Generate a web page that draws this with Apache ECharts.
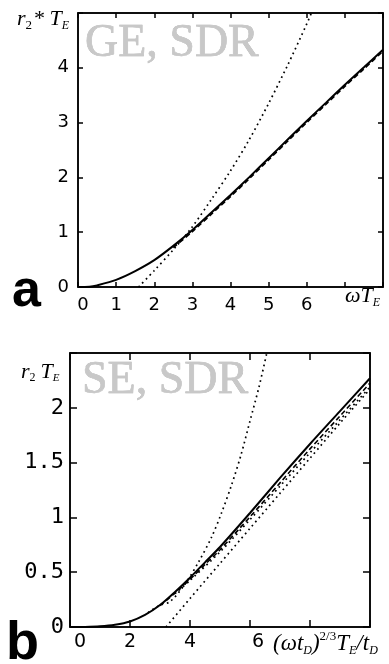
<!DOCTYPE html>
<html>
<head>
<meta charset="utf-8">
<script src="https://cdn.jsdelivr.net/npm/echarts@6/dist/echarts.min.js"></script>
<style>
html, body { margin: 0; padding: 0; background: #fff; }
#main { width: 389px; height: 664px; }
</style>
</head>
<body>
<div id="main"></div>
<script>
// panel a : GE, SDR
var aSolidX = [0, 0.3, 0.5, 1, 1.5, 2, 2.5, 3, 3.5, 4, 4.5, 5, 5.5, 6, 6.5, 7, 7.5, 8];
var aSolidY = [0, 0.005, 0.03, 0.13, 0.29, 0.49, 0.75, 1.04, 1.36, 1.68, 2.01, 2.35, 2.69, 3.03, 3.36, 3.69, 4.01, 4.33];
var aDashX = [2.5, 3, 3.5, 4, 4.5, 5, 5.5, 6, 6.5, 7, 7.5, 8];
var aDashY = [0.72, 1.01, 1.33, 1.65, 1.98, 2.32, 2.66, 3.0, 3.33, 3.66, 3.98, 4.3];
var aSteepX = [1.59, 2, 2.5, 3, 3.5, 4, 4.5, 5, 5.5, 6, 6.12];
var aSteepY = [0, 0.3, 0.68, 1.1, 1.6, 2.12, 2.7, 3.35, 4.05, 4.8, 5.0];

// panel b : SE, SDR
var bSolidX = [0, 0.5, 1, 1.5, 2, 2.5, 3, 3.5, 4, 4.5, 5, 6, 7, 8, 9, 10];
var bSolidY = [0, 0.001, 0.006, 0.02, 0.05, 0.11, 0.2, 0.32, 0.45, 0.59, 0.73, 1.04, 1.36, 1.67, 1.97, 2.27];
var bDashX = [3, 3.5, 4, 4.5, 5, 6, 7, 8, 9, 10];
var bDashY = [0.195, 0.31, 0.435, 0.57, 0.705, 1.005, 1.315, 1.625, 1.925, 2.225];
var bDotX = [3.5, 4, 5, 6, 7, 8, 9, 10];
var bDotY = [0.305, 0.425, 0.685, 0.98, 1.285, 1.59, 1.89, 2.19];
var bAsymX = [3.2, 4, 5, 6, 7, 8, 9, 10];
var bAsymY = [0, 0.26, 0.58, 0.9, 1.22, 1.54, 1.86, 2.17];
var bSteepX = [2.6, 3, 3.33, 3.83, 4.3, 4.72, 5.05, 5.39, 5.7, 6.0, 6.3, 6.56];
var bSteepY = [0.13, 0.2, 0.23, 0.39, 0.6, 0.82, 1.04, 1.3, 1.57, 1.88, 2.19, 2.5];

function pairs(xs, ys) {
    return xs.map(function (x, i) { return [x, ys[i]]; });
}

var tickStyle = { color: '#000', width: 1.5 };

// pads: extra left padding for some tick labels (shifts them right like the original)
function xAxes(grid, max, step, tickLen, hideFrom, font, size, margin, pads) {
    return [{
        type: 'value', gridIndex: grid, min: 0, max: max, interval: step, position: 'bottom',
        axisLine: { show: true, onZero: false, lineStyle: tickStyle },
        axisTick: { show: true, inside: true, length: tickLen, lineStyle: tickStyle },
        splitLine: { show: false },
        axisLabel: {
            margin: margin, color: '#000', fontFamily: font, fontSize: size,
            formatter: function (v) {
                if (v >= hideFrom) return '';
                if (pads[v]) return '{p' + v + '|' + v + '}';
                return String(v);
            },
            rich: (function () {
                var r = {};
                for (var k in pads) r['p' + k] = { fontFamily: font, fontSize: size, color: '#000', padding: [0, 0, 0, pads[k]] };
                return r;
            })()
        }
    }, {
        type: 'value', gridIndex: grid, min: 0, max: max, interval: step, position: 'top',
        axisLine: { show: true, onZero: false, lineStyle: tickStyle },
        axisTick: { show: true, inside: true, length: tickLen, lineStyle: tickStyle },
        splitLine: { show: false },
        axisLabel: { show: false }
    }];
}

function yAxes(grid, max, step, tickLen, font, size, margin) {
    return [{
        type: 'value', gridIndex: grid, min: 0, max: max, interval: step, position: 'left',
        axisLine: { show: true, onZero: false, lineStyle: tickStyle },
        axisTick: { show: true, inside: true, length: tickLen, lineStyle: tickStyle },
        splitLine: { show: false },
        axisLabel: {
            margin: margin, color: '#000', fontFamily: font, fontSize: size,
            formatter: function (v) { return v >= max ? '' : String(v); }
        }
    }, {
        type: 'value', gridIndex: grid, min: 0, max: max, interval: step, position: 'right',
        axisLine: { show: true, onZero: false, lineStyle: tickStyle },
        axisTick: { show: true, inside: true, length: tickLen, lineStyle: tickStyle },
        splitLine: { show: false },
        axisLabel: { show: false }
    }];
}

function line(data, xi, yi, kind) {
    var ls = { color: '#000', width: 2, type: 'solid' };
    if (kind === 'dash') ls = { color: '#000', width: 1.6, type: [5, 3] };
    if (kind === 'dot') ls = { color: '#000', width: 1.7, type: [1.7, 3.6] };
    return {
        type: 'line', xAxisIndex: xi, yAxisIndex: yi, data: data,
        showSymbol: false, symbol: 'none', smooth: 0.3,
        lineStyle: ls, silent: true, z: kind === 'solid' ? 5 : 3
    };
}

var serif = '"Liberation Serif", "DejaVu Serif", serif';

function rt(size, extra) {
    var o = { fontFamily: serif, fontStyle: 'italic', fontSize: size, fill: '#000', verticalAlign: 'top', lineHeight: size };
    for (var k in extra) o[k] = extra[k];
    return o;
}

var myChart = echarts.init(document.getElementById('main'));
var option = {
    animation: false,
    backgroundColor: '#fff',
    grid: [
        { left: 78, top: 13, width: 305, height: 274, show: true, borderColor: '#000', borderWidth: 1.5, backgroundColor: 'transparent', outerBoundsMode: 'none' },
        { left: 70, top: 353, width: 300, height: 274, show: true, borderColor: '#000', borderWidth: 1.5, backgroundColor: 'transparent', outerBoundsMode: 'none' }
    ],
    xAxis: xAxes(0, 8, 1, 5, 7, '"DejaVu Sans", sans-serif', 18, 9, { 0: 10 })
        .concat(xAxes(1, 10, 2, 7, 8, '"DejaVu Sans", sans-serif', 19, 6, { 0: 20, 6: 16 })),
    yAxis: yAxes(0, 5, 1, 5, '"DejaVu Sans", sans-serif', 18, 9)
        .concat(yAxes(1, 2.5, 0.5, 7, '"DejaVu Sans Mono", monospace', 22, 6)),
    series: [
        line(pairs(aSteepX, aSteepY), 0, 0, 'dot'),
        line(pairs(aDashX, aDashY), 0, 0, 'dash'),
        line(pairs(aSolidX, aSolidY), 0, 0, 'solid'),
        line(pairs(bSteepX, bSteepY), 2, 2, 'dot'),
        line(pairs(bAsymX, bAsymY), 2, 2, 'dot'),
        line(pairs(bDotX, bDotY), 2, 2, 'dot'),
        line(pairs(bDashX, bDashY), 2, 2, 'dash'),
        line(pairs(bSolidX, bSolidY), 2, 2, 'solid')
    ],
    graphic: [
        { type: 'text', x: 85, y: 44, silent: true, style: { text: 'GE, SDR', fontFamily: serif, fontSize: 46, fill: '#c8c8c8', stroke: '#aaaaaa', lineWidth: 0.5, verticalAlign: 'middle' } },
        { type: 'text', x: 82, y: 381, silent: true, style: { text: 'SE, SDR', fontFamily: serif, fontSize: 46, fill: '#c8c8c8', stroke: '#aaaaaa', lineWidth: 0.5, verticalAlign: 'middle' } },
        { type: 'text', x: 12, y: 292, silent: true, style: { text: 'a', fontFamily: '"Liberation Sans", Arial, sans-serif', fontWeight: 'bold', fontSize: 52, fill: '#000', verticalAlign: 'middle' } },
        { type: 'text', x: 6, y: 644, silent: true, style: { text: 'b', fontFamily: '"Liberation Sans", Arial, sans-serif', fontWeight: 'bold', fontSize: 54, fill: '#000', verticalAlign: 'middle' } },
        { type: 'text', x: 17, y: 8, silent: true, style: {
            text: '{m|r}{s|2}{m|* T}{e|E}', verticalAlign: 'top',
            rich: { m: rt(22, {}), s: rt(13, { fontStyle: 'normal', padding: [11, 1, 0, 0] }), e: rt(12, { padding: [12, 0, 0, 0] }) }
        } },
        { type: 'text', x: 21, y: 361, silent: true, style: {
            text: '{m|r}{s|2}{m|T}{e|E}', verticalAlign: 'top',
            rich: { m: rt(22, {}), s: rt(12, { fontStyle: 'normal', padding: [11, 5, 0, 0] }), e: rt(11, { padding: [12, 0, 0, 0] }) }
        } },
        { type: 'text', x: 345, y: 285, silent: true, style: {
            text: '{m|\u03c9T}{e|E}', verticalAlign: 'top',
            rich: { m: rt(22, {}), e: rt(12, { padding: [12, 0, 0, 0] }) }
        } },
        { type: 'text', x: 273, y: 632, silent: true, style: {
            text: '{m|(\u03c9t}{e|D}{m|)}{p|2/3}{m|T}{e|E}{m|/t}{e|D}', verticalAlign: 'top',
            rich: { m: rt(23, {}), e: rt(12, { padding: [13, 0, 0, 0] }), p: rt(13, { fontStyle: 'normal', padding: [-2, 0, 0, 0] }) }
        } }
    ]
};
myChart.setOption(option);
</script>
</body>
</html>
